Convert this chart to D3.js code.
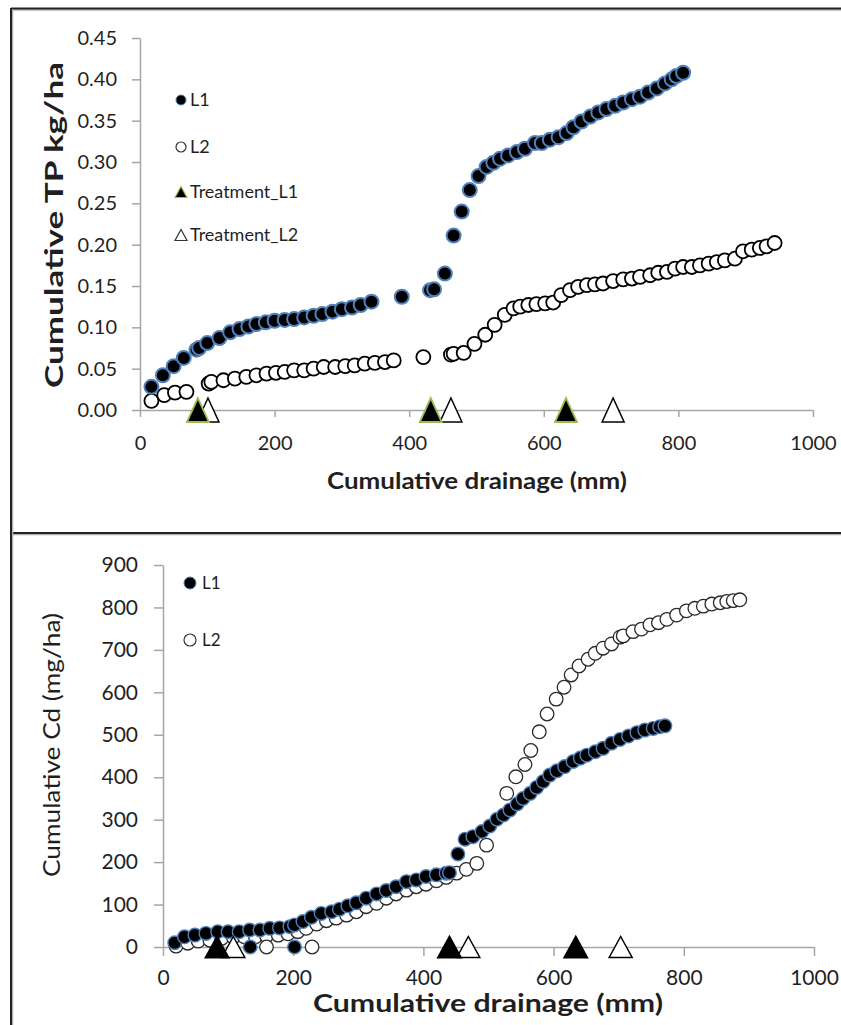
<!DOCTYPE html>
<html>
<head>
<meta charset="utf-8">
<script src="https://cdnjs.cloudflare.com/ajax/libs/d3/7.8.5/d3.min.js"></script>
<style>
  body { margin: 0; background: #fff; }
  svg { display: block; font-family: Lato, "Open Sans", sans-serif; }
</style>
</head>
<body>
<svg id="fig" width="841" height="1025"></svg>
<script>
// ---- top panel: cumulative TP (kg/ha) vs cumulative drainage (mm)
var tpL1X = [17,34,50,65,84,88,100,118,134,148,161,173,187,200,215,229,244,258,271,286,300,315,328,344,389,431,437,453,466,478,490,503,515,525,535,547,560,572,587,597,609,622,634,644,656,669,681,693,706,718,731,743,755,768,780,790,797,807];
var tpL1Y = [0.028,0.042,0.053,0.063,0.073,0.075,0.081,0.087,0.094,0.098,0.101,0.104,0.106,0.108,0.109,0.110,0.112,0.114,0.116,0.119,0.122,0.124,0.127,0.131,0.137,0.145,0.146,0.165,0.211,0.240,0.266,0.283,0.294,0.299,0.304,0.308,0.312,0.316,0.323,0.323,0.327,0.330,0.335,0.342,0.349,0.355,0.360,0.364,0.368,0.372,0.376,0.379,0.384,0.389,0.395,0.400,0.404,0.408];
var tpL2X = [17,36,52,69,102,106,124,141,158,173,188,202,215,229,244,258,273,290,305,319,334,349,364,377,421,462,466,481,497,513,527,542,555,565,577,589,602,614,626,639,651,664,676,688,703,718,731,743,758,770,783,795,807,820,832,845,857,869,884,896,909,921,931,943];
var tpL2Y = [0.011,0.018,0.021,0.022,0.032,0.034,0.036,0.038,0.040,0.042,0.044,0.045,0.046,0.048,0.048,0.050,0.052,0.052,0.053,0.054,0.056,0.057,0.058,0.060,0.064,0.067,0.068,0.069,0.080,0.091,0.103,0.115,0.123,0.125,0.127,0.128,0.129,0.130,0.139,0.145,0.149,0.151,0.152,0.153,0.156,0.158,0.159,0.161,0.163,0.166,0.167,0.171,0.173,0.173,0.175,0.177,0.179,0.181,0.183,0.192,0.194,0.196,0.198,0.202];
var tpTreatL1 = [86,432,633];
var tpTreatL2 = [101,462,703];
var tpYTicks = [0,0.05,0.10,0.15,0.20,0.25,0.30,0.35,0.40,0.45];

// ---- bottom panel: cumulative Cd (mg/ha)
var cdL1X = [18,33,49,66,84,100,117,133,134,149,164,179,195,202,202,215,228,243,259,271,284,297,312,328,343,358,374,389,404,420,435,440,453,464,476,490,502,513,523,533,544,553,564,574,584,594,605,617,630,641,651,664,676,689,702,715,728,740,753,763,771];
var cdL1Y = [10,24,28,32,36,36,36,40,0,40,44,45,48,52,0,60,70,79,83,89,97,104,115,125,133,142,154,158,166,170,174,175,219,254,260,272,285,301,311,323,337,350,362,376,390,405,415,425,437,445,452,460,468,480,489,497,505,511,515,519,521];
var cdL2X = [20,38,54,72,90,108,125,142,159,159,177,192,207,220,229,236,251,266,282,297,312,328,343,358,374,389,404,420,435,451,466,482,497,528,542,556,565,578,590,604,616,627,639,653,664,676,689,702,707,722,735,748,761,774,789,804,817,830,843,856,866,876,886];
var cdL2Y = [2,9,14,16,20,23,24,24,26,0,28,31,36,44,0,54,62,68,75,83,95,103,115,125,134,142,148,156,164,174,183,197,240,362,401,430,463,507,549,584,612,641,662,678,692,704,714,730,733,743,749,759,764,772,782,792,798,803,808,811,814,816,818];
var cdTreatL1 = [83,440,634];
var cdTreatL2 = [108,469,703];
var cdYTicks = [0,100,200,300,400,500,600,700,800,900];

var xTicks = [0,200,400,600,800,1000];

var svg = d3.select("#fig");
var blue = "#4f81bd", green = "#9bbb59", axisGray = "#a6a6a6", ink = "#1f1f1f";

// frame lines like the pasted figure
function frameLine(x1, y1, x2, y2) {
    svg.append("line").attr("x1", x1 + 1.5).attr("y1", y1 + 1.5).attr("x2", x2 + 1.5).attr("y2", y2 + 1.5)
        .attr("stroke", "#b0b0b0").attr("stroke-width", 1.5);
    svg.append("line").attr("x1", x1).attr("y1", y1).attr("x2", x2).attr("y2", y2)
        .attr("stroke", "#222").attr("stroke-width", 2);
}
frameLine(11, 8.5, 841, 8.5);
frameLine(11, 533, 841, 533);
frameLine(11, 8, 11, 1025);

function tri(cx, cy, w, h) {
    return "M" + cx + "," + (cy - h / 2) + "L" + (cx + w / 2) + "," + (cy + h / 2) + "L" + (cx - w / 2) + "," + (cy + h / 2) + "Z";
}

function panel(o) {
    var g = svg.append("g");
    var x = d3.scaleLinear().domain([0, 1000]).range(o.xr);
    var y = d3.scaleLinear().domain(o.yd).range(o.yr);

    var yAxis = g.append("g").attr("transform", "translate(" + o.xr[0] + ",0)")
        .call(d3.axisLeft(y).tickValues(o.yTicks).tickFormat(d3.format(o.fmt))
            .tickSize(o.ytick).tickSizeOuter(0).tickPadding(o.ypad));
    var xAxis = g.append("g").attr("transform", "translate(0," + o.yr[0] + ")")
        .call(d3.axisBottom(x).tickValues(xTicks).tickFormat(d3.format("d"))
            .tickSize(o.xtick).tickSizeOuter(0).tickPadding(o.xpad));

    [yAxis, xAxis].forEach(function(a) {
        a.select(".domain").attr("stroke", axisGray).attr("stroke-width", 1.5);
        a.selectAll(".tick line").attr("stroke", axisGray).attr("stroke-width", 1.5);
        a.selectAll(".tick text").attr("fill", ink).style("font-size", o.tickFont + "px")
            .style("font-family", "Lato, sans-serif");
    });

    // series L2 first, L1 on top
    g.append("g").selectAll("circle").data(o.l2x.map(function(d, i) { return [d, o.l2y[i]]; }))
        .enter().append("circle")
        .attr("cx", d => x(d[0])).attr("cy", d => y(d[1])).attr("r", o.r)
        .attr("fill", "#fff").attr("stroke", o.l2stroke).attr("stroke-width", o.l2sw);

    g.append("g").selectAll("circle").data(o.l1x.map(function(d, i) { return [d, o.l1y[i]]; }))
        .enter().append("circle")
        .attr("cx", d => x(d[0])).attr("cy", d => y(d[1])).attr("r", o.r)
        .attr("fill", "#000").attr("stroke", blue).attr("stroke-width", o.l1sw);

    g.append("g").selectAll("path").data(o.t2)
        .enter().append("path")
        .attr("d", d => tri(x(d), y(0), o.tw, o.th))
        .attr("fill", "#fff").attr("stroke", "#000").attr("stroke-width", 1.5);
    g.append("g").selectAll("path").data(o.t1)
        .enter().append("path")
        .attr("d", d => tri(x(d), y(0), o.tw, o.th))
        .attr("fill", "#000").attr("stroke", o.t1stroke).attr("stroke-width", 1.8);

    // axis titles
    g.append("text").attr("transform", "translate(" + o.ytx + "," + o.yty + ") rotate(-90)")
        .attr("text-anchor", "middle").attr("fill", ink)
        .attr("textLength", o.ytLen).attr("lengthAdjust", "spacingAndGlyphs")
        .style("font-size", o.ytFont + "px").style("font-weight", o.ytWeight)
        .text(o.ytitle);
    g.append("text").attr("x", o.xtx).attr("y", o.xty)
        .attr("text-anchor", "middle").attr("fill", ink)
        .attr("textLength", o.xtLen).attr("lengthAdjust", "spacingAndGlyphs")
        .style("font-size", o.xtFont + "px").style("font-weight", "bold")
        .text("Cumulative drainage (mm)");

    // legend
    o.legend.forEach(function(it, k) {
        var ly = o.legY[k];
        if (it.kind == "c1") {
            g.append("circle").attr("cx", o.legX).attr("cy", ly).attr("r", o.legR)
                .attr("fill", "#000").attr("stroke", blue).attr("stroke-width", 1);
        } else if (it.kind == "c2") {
            g.append("circle").attr("cx", o.legX).attr("cy", ly).attr("r", o.legR)
                .attr("fill", "#fff").attr("stroke", "#333").attr("stroke-width", 1.2);
        } else if (it.kind == "t1") {
            g.append("path").attr("d", tri(o.legX, ly, 12, 11))
                .attr("fill", "#000").attr("stroke", green).attr("stroke-width", 1.2);
        } else {
            g.append("path").attr("d", tri(o.legX, ly, 12, 11))
                .attr("fill", "#fff").attr("stroke", "#333").attr("stroke-width", 1.2);
        }
        g.append("text").attr("x", o.legX + o.legGap).attr("y", ly).attr("dy", "0.36em")
            .attr("fill", ink).style("font-size", o.legFont + "px").text(it.label);
    });
}

panel({
    xr: [140, 813], yd: [0, 0.45], yr: [410, 38], yTicks: tpYTicks, fmt: ".2f",
    ytick: 8, ypad: 15, xtick: 7, xpad: 19, tickFont: 20,
    l1x: tpL1X, l1y: tpL1Y, l2x: tpL2X, l2y: tpL2Y, r: 7, l1sw: 2, l2sw: 1.8, l2stroke: "#000",
    t1: tpTreatL1, t2: tpTreatL2, tw: 22, th: 24, t1stroke: green,
    ytitle: "Cumulative TP kg/ha", ytx: 63, yty: 225, ytLen: 326, ytFont: 25, ytWeight: "bold",
    xtx: 477, xty: 489, xtLen: 300, xtFont: 23,
    legX: 181, legGap: 9, legR: 5, legFont: 18, legY: [100, 147, 192, 235],
    legend: [{kind: "c1", label: "L1"}, {kind: "c2", label: "L2"},
             {kind: "t1", label: "Treatment_L1"}, {kind: "t2", label: "Treatment_L2"}]
});

panel({
    xr: [163, 814], yd: [0, 900], yr: [947, 565], yTicks: cdYTicks, fmt: "d",
    ytick: 9, ypad: 16, xtick: 9, xpad: 14, tickFont: 21,
    l1x: cdL1X, l1y: cdL1Y, l2x: cdL2X, l2y: cdL2Y, r: 6.8, l1sw: 1.4, l2sw: 1.3, l2stroke: "#2a2a2a",
    t1: cdTreatL1, t2: cdTreatL2, tw: 23, th: 21, t1stroke: "#000",
    ytitle: "Cumulative Cd (mg/ha)", ytx: 60, yty: 745, ytLen: 264, ytFont: 23, ytWeight: "normal",
    xtx: 488, xty: 1012, xtLen: 350, xtFont: 24,
    legX: 190, legGap: 12, legR: 6, legFont: 17, legY: [583, 640],
    legend: [{kind: "c1", label: "L1"}, {kind: "c2", label: "L2"}]
});
</script>
</body>
</html>
